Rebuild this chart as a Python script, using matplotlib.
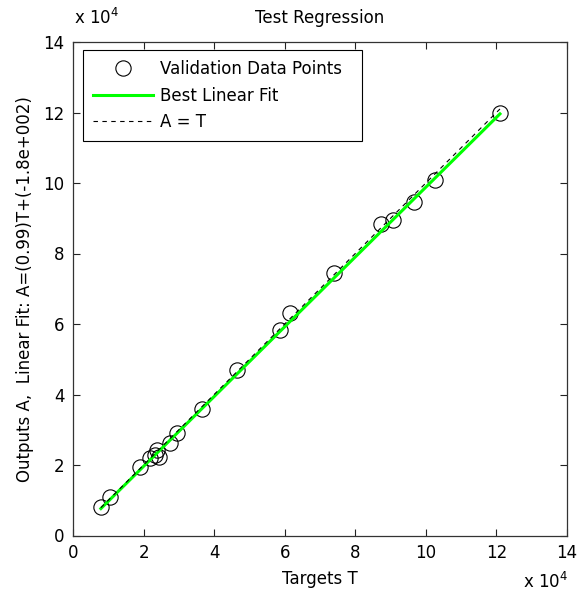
import numpy as np
import matplotlib
matplotlib.use("Agg")
import matplotlib.pyplot as plt
from matplotlib.ticker import FuncFormatter

# targets / outputs
targets = [7900, 10500, 19000, 21800, 23700, 24500, 23200, 27500, 29400, 36700,
           46500, 58800, 61500, 73900, 87400, 90700, 96700, 102600, 121000]
outputs = [8000, 10800, 19500, 21900, 24300, 22400, 22800, 26200, 29000, 35800,
           46900, 58300, 63000, 74400, 88500, 89500, 94500, 100900, 119800]
slope = 0.99
intercept = -180.0
ticks = [0, 20000, 40000, 60000, 80000, 100000, 120000, 140000]

plt.rcParams['font.family'] = ['DejaVu Sans']
plt.rcParams['font.size'] = 12

fig = plt.figure(figsize=(5.82, 5.97), dpi=100)
ax = fig.add_axes([73/582, 1-535.5/597, 494/582, 493.5/597])

t = np.array(targets)
lo, hi = min(t.min(), min(outputs)), max(t.max(), max(outputs))
ax.plot(t, outputs, 'o', mfc='none', mec='black', ms=11, mew=0.8,
        label='Validation Data Points')
tt = np.array([t.min(), t.max()])
ax.plot(tt, slope*tt + intercept, color=(0, 1, 0), lw=2.2, label='Best Linear Fit')
ax.plot([lo, hi], [lo, hi], '--', color='black', lw=0.8, dashes=(4, 4), label='A = T')

ax.set_xlim(0, 140000)
ax.set_ylim(0, 140000)
ax.set_xticks(ticks)
ax.set_yticks(ticks)
fmt = FuncFormatter(lambda v, p: '%g' % (v/1e4))
ax.xaxis.set_major_formatter(fmt)
ax.yaxis.set_major_formatter(fmt)
ax.tick_params(direction='in', top=True, right=True, length=5, width=0.8,
               colors='#222222', labelcolor='black', labelsize=12)
ax.tick_params(axis='x', pad=6)
ax.tick_params(axis='y', pad=6)
for s in ax.spines.values():
    s.set_color('#333333')
    s.set_linewidth(0.9)

ax.set_title('Test Regression', fontsize=12, pad=14)
ax.set_xlabel('Targets T', fontsize=12, labelpad=6)
ax.set_ylabel('Outputs A,  Linear Fit: A=(%.2g)T+(-1.8e+002)' % slope, fontsize=12, labelpad=7)
fig.text(74/582, 1-18/597, 'x 10$^4$', fontsize=12, va='center', ha='left')
fig.text(568/582, 1-582/597, 'x 10$^4$', fontsize=12, va='center', ha='right')

leg = ax.legend(loc='upper left', bbox_to_anchor=(0.02, 0.5, 0.565, 0.484),
                mode='expand', borderaxespad=0, fancybox=False, framealpha=1,
                edgecolor='black', handlelength=3.6, labelspacing=0.52,
                handletextpad=0.45, borderpad=0.6, fontsize=12)
leg.get_frame().set_linewidth(0.8)

fig.savefig('out.png', dpi=100)
